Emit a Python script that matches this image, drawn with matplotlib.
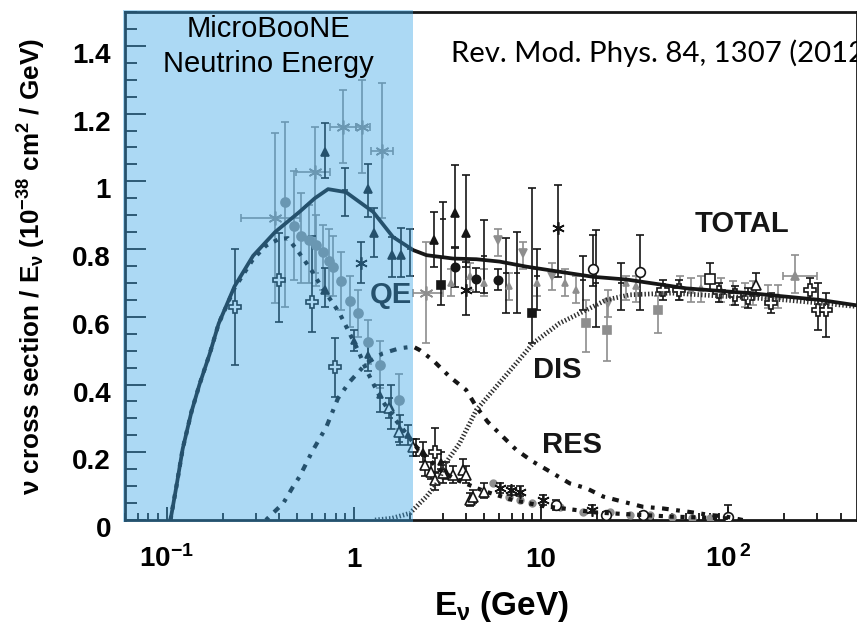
import numpy as np
import matplotlib
matplotlib.use('Agg')
import matplotlib.pyplot as plt
from matplotlib.ticker import LogLocator, MultipleLocator, FuncFormatter, NullFormatter
from matplotlib.transforms import ScaledTranslation

plt.rcParams['font.family'] = 'Liberation Sans'
plt.rcParams['mathtext.default'] = 'regular'

# ---- model curves (E in GeV, sigma/E in 1e-38 cm^2/GeV) ----
tot_E = [0.105, 0.113, 0.122, 0.136, 0.150, 0.170, 0.19, 0.231, 0.29, 0.38, 0.514, 0.62, 0.73,
         0.91, 1.27, 1.62, 2.08, 2.45, 3.4, 4.53, 6.03, 8.4, 12.6, 19.1, 28.8, 60, 136, 309, 500]
tot_y = [0.0, 0.10, 0.21, 0.32, 0.40, 0.49, 0.58, 0.69, 0.78, 0.85, 0.91, 0.95, 0.977,
         0.968, 0.91, 0.836, 0.797, 0.782, 0.772, 0.77, 0.763, 0.748, 0.733, 0.718, 0.71, 0.684, 0.669, 0.650, 0.633]

qe_E = [0.105, 0.113, 0.122, 0.136, 0.150, 0.170, 0.19, 0.231, 0.29, 0.34, 0.40, 0.446, 0.514, 0.594,
        0.672, 0.775, 0.842, 0.952, 1.054, 1.17, 1.38, 1.62, 1.91, 2.16, 2.45, 2.88, 3.5, 5.0, 7.0,
        10, 20, 50, 100]
qe_y = [0.0, 0.10, 0.21, 0.32, 0.40, 0.49, 0.58, 0.685, 0.77, 0.81, 0.83, 0.832, 0.787, 0.738,
        0.689, 0.64, 0.61, 0.551, 0.502, 0.443, 0.364, 0.305, 0.256, 0.216, 0.187, 0.148, 0.12, 0.085, 0.06,
        0.042, 0.022, 0.01, 0.005]

res_E = [0.34, 0.37, 0.42, 0.474, 0.514, 0.60, 0.715, 0.824, 0.952, 1.17, 1.43, 1.76, 2.08, 2.25,
         2.65, 3.26, 3.99, 4.53, 5.2, 7.4, 9.1, 11.2, 14.3, 17.5, 21.6, 27.5, 35.2, 45, 60, 80, 98, 120]
res_y = [0.0, 0.02, 0.049, 0.098, 0.128, 0.202, 0.275, 0.359, 0.408, 0.463, 0.492, 0.507, 0.512, 0.502,
         0.472, 0.423, 0.384, 0.334, 0.29, 0.207, 0.172, 0.143, 0.108, 0.094, 0.069, 0.054, 0.039, 0.034,
         0.025, 0.015, 0.01, 0.0]

dis_E = [1.3, 1.6, 2.0, 2.25, 2.45, 2.88, 3.0, 3.68, 4.53, 5.79, 7.4, 9.1, 12.6, 17.5, 22.4, 30, 50,
         100, 200, 500]
dis_y = [0.0, 0.005, 0.02, 0.049, 0.069, 0.118, 0.157, 0.226, 0.325, 0.394, 0.463, 0.522, 0.581, 0.62,
         0.65, 0.665, 0.67, 0.66, 0.65, 0.63]

# ---- data points: value, lower and upper end of the error bar ----
# grey asterisks (with energy bins)
ga_E = [0.378, 0.619, 0.877, 1.108, 1.42, 2.45]
ga_y = [0.891, 1.028, 1.161, 1.161, 1.089, 0.669]
ga_lo = [0.64, 0.728, 1.053, 1.024, 0.891, 0.522]
ga_hi = [1.142, 1.161, 1.27, 1.30, 1.29, 0.822]
ga_xlo = [0.25, 0.494, 0.744, 1.03, 1.24, 2.08]
ga_xhi = [0.514, 0.744, 1.03, 1.22, 1.62, 3.0]

# grey filled circles
gc_E = [0.428, 0.480, 0.525, 0.577, 0.627, 0.685, 0.735, 0.775, 0.852, 0.952, 1.054, 1.20, 1.38, 1.74]
gc_y = [0.94, 0.868, 0.839, 0.827, 0.811, 0.790, 0.766, 0.746, 0.707, 0.647, 0.612, 0.526, 0.458, 0.354]
gc_lo = [0.63, 0.71, 0.70, 0.70, 0.69, 0.68, 0.66, 0.66, 0.62, 0.57, 0.54, 0.46, 0.39, 0.27]
gc_hi = [1.174, 1.03, 0.965, 0.93, 0.90, 0.87, 0.86, 0.84, 0.79, 0.72, 0.68, 0.59, 0.53, 0.43]

# grey down triangles
gv_E = [5.9, 8.0, 11.5, 22.9]
gv_y = [0.827, 0.787, 0.72, 0.64]
gv_lo = [0.78, 0.74, 0.68, 0.60]
gv_hi = [0.86, 0.82, 0.76, 0.68]

# grey small triangles along the total
gt_E = [3.3, 4.2, 5.0, 6.8, 9.5, 13.5, 15.5, 28.7, 32.4, 55.5, 63.8, 72.1, 92.2, 106, 123, 137, 164, 186]
gt_y = [0.70, 0.72, 0.70, 0.69, 0.70, 0.70, 0.68, 0.70, 0.69, 0.69, 0.68, 0.685, 0.68, 0.67, 0.665,
        0.67, 0.66, 0.66]
gt_lo = [0.66, 0.68, 0.66, 0.65, 0.66, 0.66, 0.64, 0.65, 0.645, 0.65, 0.645, 0.645, 0.645, 0.635, 0.63,
         0.635, 0.625, 0.625]
gt_hi = [0.74, 0.76, 0.74, 0.73, 0.74, 0.74, 0.72, 0.72, 0.72, 0.72, 0.715, 0.72, 0.715, 0.705, 0.70,
         0.705, 0.695, 0.695]

# grey squares
gs_E = [17.5, 22.7, 42.4]
gs_y = [0.581, 0.561, 0.62]
gs_lo = [0.497, 0.47, 0.552]
gs_hi = [0.65, 0.65, 0.66]

# grey triangle with energy bin
gb_E = [228]
gb_y = [0.72]
gb_lo = [0.669]
gb_hi = [0.782]
gb_xlo = [196]
gb_xhi = [298]

# grey points close to zero at high energy
gl_E = [5.55, 6.8, 7.7, 9.0, 12.6, 16.8, 23.3, 29.8, 38.3, 50, 64, 80]
gl_y = [0.110, 0.069, 0.059, 0.05, 0.039, 0.025, 0.025, 0.015, 0.015, 0.01, 0.006, 0.005]

# black filled triangles
bt_E = [0.70, 0.70, 1.20, 1.29, 1.60, 1.78, 2.68, 3.47, 4.0]
bt_y = [1.087, 0.679, 0.976, 0.848, 0.782, 0.782, 0.827, 0.906, 0.846]
bt_lo = [1.009, 0.63, 0.895, 0.777, 0.718, 0.718, 0.748, 0.807, 0.748]
bt_hi = [1.171, 0.744, 1.051, 0.92, 0.836, 0.861, 0.91, 1.048, 1.019]

# black small triangles on the QE fall-off
bq_E = [1.0, 1.19, 1.38, 1.59, 1.76, 1.95, 2.16, 2.35, 2.94, 3.13]
bq_y = [0.53, 0.487, 0.37, 0.33, 0.27, 0.25, 0.216, 0.20, 0.172, 0.143]
bq_lo = [0.50, 0.44, 0.32, 0.27, 0.22, 0.22, 0.19, 0.17, 0.15, 0.12]
bq_hi = [0.56, 0.53, 0.40, 0.40, 0.31, 0.28, 0.24, 0.23, 0.20, 0.17]

# black open triangles
bo_E = [1.55, 1.75, 2.08, 2.40, 2.60, 2.71, 3.0, 3.39, 3.84, 4.0, 4.17, 4.35, 5.0, 142]
bo_y = [0.33, 0.261, 0.216, 0.162, 0.143, 0.118, 0.138, 0.133, 0.148, 0.133, 0.059, 0.069, 0.084, 0.694]
bo_lo = [0.30, 0.23, 0.19, 0.13, 0.12, 0.09, 0.11, 0.11, 0.12, 0.11, 0.04, 0.05, 0.065, 0.66]
bo_hi = [0.36, 0.29, 0.24, 0.19, 0.17, 0.14, 0.17, 0.16, 0.18, 0.16, 0.08, 0.09, 0.11, 0.73]

# black bars with a small mark
bb_E = [0.903, 1.99, 2.99, 5.0, 6.5, 7.45, 9.5, 16.8, 19.8, 27.0]
bb_y = [0.974, 0.80, 0.89, 0.78, 0.73, 0.73, 0.72, 0.71, 0.70, 0.70]
bb_lo = [0.897, 0.72, 0.777, 0.669, 0.61, 0.61, 0.62, 0.62, 0.57, 0.62]
bb_hi = [1.038, 0.86, 0.94, 0.886, 0.832, 0.851, 0.80, 0.78, 0.856, 0.758]

# black filled circles
bc_E = [3.47, 4.48, 5.91]
bc_y = [0.748, 0.711, 0.709]
bc_lo = [0.689, 0.674, 0.68]
bc_hi = [0.802, 0.743, 0.74]

# black filled squares
bs_E = [2.92, 8.98]
bs_y = [0.694, 0.612]
bs_lo = [0.635, 0.522]
bs_hi = [0.777, 0.979]

# black asterisks
bx_E = [1.10, 4.0, 12.4, 6.04, 6.9, 7.7, 10.3, 18.7]
bx_y = [0.758, 0.679, 0.861, 0.094, 0.088, 0.084, 0.059, 0.03]
bx_lo = [0.699, 0.605, 0.718, 0.08, 0.075, 0.07, 0.045, 0.02]
bx_hi = [0.822, 0.763, 0.989, 0.11, 0.10, 0.10, 0.075, 0.045]

# black open circles
bO_E = [18.9, 33.8, 12.1, 22.4, 35.2, 100]
bO_y = [0.740, 0.733, 0.044, 0.015, 0.015, 0.01]
bO_lo = [0.69, 0.62, 0.03, 0.005, 0.005, 0.0]
bO_hi = [0.841, 0.841, 0.06, 0.025, 0.025, 0.044]

# black open square
bq2_E = [80.1]
bq2_y = [0.711]
bq2_lo = [0.68]
bq2_hi = [0.76]

# black open crosses
bp_E = [0.231, 0.397, 0.60, 0.798, 2.71, 45, 55, 90, 109, 128, 170, 275, 303, 335]
bp_y = [0.63, 0.709, 0.644, 0.453, 0.202, 0.679, 0.679, 0.674, 0.664, 0.655, 0.64, 0.679, 0.62, 0.62]
bp_lo = [0.458, 0.585, 0.556, 0.364, 0.143, 0.65, 0.65, 0.645, 0.635, 0.625, 0.61, 0.65, 0.561, 0.541]
bp_hi = [0.80, 0.847, 0.839, 0.536, 0.271, 0.71, 0.71, 0.70, 0.69, 0.685, 0.67, 0.715, 0.699, 0.67]

GREY = '#8e8e8e'
BLACK = '#161616'

fig = plt.figure(figsize=(8.57, 6.24), dpi=100)
ax = fig.add_axes([125/857, 104/624, 732/857, 508/624])


def bars(E, y, lo, hi, color, marker, ms, mfc=None, xlo=None, xhi=None, z=3):
    E = np.array(E, dtype=float)
    y = np.array(y, dtype=float)
    yerr = [y - np.array(lo), np.array(hi) - y]
    xerr = None
    if xlo is not None:
        xerr = [E - np.array(xlo), np.array(xhi) - E]
    ax.errorbar(E, y, yerr=yerr, xerr=xerr, fmt='', marker=marker, ls='none', color=color, ms=ms,
                mfc=color if mfc is None else mfc, mec=color, mew=1.2,
                elinewidth=1.2, capsize=3, capthick=1.2, zorder=z)


# grey data
bars(ga_E, ga_y, ga_lo, ga_hi, GREY, (6, 2, 0), 10, xlo=ga_xlo, xhi=ga_xhi)
bars(gc_E, gc_y, gc_lo, gc_hi, GREY, 'o', 6.5)
bars(gv_E, gv_y, gv_lo, gv_hi, GREY, 'v', 6)
bars(gt_E, gt_y, gt_lo, gt_hi, GREY, '^', 4)
bars(gs_E, gs_y, gs_lo, gs_hi, GREY, 's', 6)
bars(gb_E, gb_y, gb_lo, gb_hi, GREY, '^', 6, xlo=gb_xlo, xhi=gb_xhi)
ax.plot(gl_E, gl_y, 'o', color=GREY, ms=5, zorder=3)

# black data
bars(bt_E, bt_y, bt_lo, bt_hi, BLACK, '^', 6)
bars(bq_E, bq_y, bq_lo, bq_hi, BLACK, '^', 5)
bars(bo_E, bo_y, bo_lo, bo_hi, BLACK, '^', 7, mfc='white')
bars(bb_E, bb_y, bb_lo, bb_hi, BLACK, '_', 5)
bars(bc_E, bc_y, bc_lo, bc_hi, BLACK, 'o', 6)
bars(bs_E, bs_y, bs_lo, bs_hi, BLACK, 's', 6)
bars(bx_E, bx_y, bx_lo, bx_hi, BLACK, (6, 2, 0), 9)
bars(bO_E, bO_y, bO_lo, bO_hi, BLACK, 'o', 7, mfc='white')
bars(bq2_E, bq2_y, bq2_lo, bq2_hi, BLACK, 's', 7, mfc='white')
bars(bp_E, bp_y, bp_lo, bp_hi, BLACK, 'P', 8, mfc='white')

# model curves
ax.plot(dis_E, dis_y, color='#2e2e2e', lw=3.4, dashes=(0.3, 0.45), zorder=4)
ax.plot(res_E, res_y, color=BLACK, lw=3, dashes=(0.9, 1.8, 1.6, 1.8), zorder=4)
ax.plot(qe_E, qe_y, color=BLACK, lw=3, dashes=(1, 1.6), zorder=4)
ax.plot(tot_E, tot_y, color=BLACK, lw=2.7, zorder=5, solid_capstyle='butt')

lab = dict(fontsize=21, fontweight='bold', ha='center', va='baseline', color=BLACK, zorder=6)
ax.text(1.58, 0.641, 'QE', **lab)
ax.text(12.3, 0.419, 'DIS', **lab)
ax.text(14.7, 0.198, 'RES', **lab)
ax.text(119, 0.850, 'TOTAL', **lab)

# MicroBooNE energy range
ax.axvspan(0.0585, 2.07, ymin=-0.004, ymax=1.004, color='#3AA5E6', alpha=0.42, lw=0,
           zorder=20, clip_on=False)
ax.text(0.349, 1.427, 'MicroBooNE', fontsize=21, ha='center', va='baseline', zorder=30)
ax.text(0.349, 1.324, 'Neutrino Energy', fontsize=21, ha='center', va='baseline', zorder=30)
ax.text(3.33, 1.353, 'Rev. Mod. Phys. 84, 1307 (2012)', fontsize=21.2, family='Lato',
        ha='left', va='baseline', zorder=30)

ax.set_xscale('log')
ax.set_xlim(0.06, 10 ** (2 + 129 / 187))
ax.set_ylim(0, 1.5)

ax.set_xticks([0.1, 1, 10, 100])
ax.set_xticklabels(['$10^{-1}$', '1', '10', '$10^{\\,2}$'])
ax.xaxis.set_minor_locator(LogLocator(base=10, subs=np.arange(2, 10)))
ax.xaxis.set_minor_formatter(NullFormatter())
ax.yaxis.set_major_locator(MultipleLocator(0.2))
ax.yaxis.set_minor_locator(MultipleLocator(0.05))
ax.yaxis.set_major_formatter(FuncFormatter(lambda v, p: ('%.1f' % v).rstrip('0').rstrip('.')))

ax.tick_params(axis='x', which='major', direction='in', length=9.5, width=1.2, pad=34, labelsize=20)
ax.tick_params(axis='x', which='minor', direction='in', length=5, width=1.2)
ax.tick_params(axis='y', which='major', direction='in', length=15, width=1.2, pad=10, labelsize=20)
ax.tick_params(axis='y', which='minor', direction='in', length=8.4, width=1.2)
for t in ax.get_xticklabels():
    t.set_fontweight('bold')
    t.set_verticalalignment('baseline')
shift = ScaledTranslation(0, -7 / 100, fig.dpi_scale_trans)
for t in ax.get_yticklabels():
    t.set_fontweight('bold')
    t.set_transform(t.get_transform() + shift)

for s in ax.spines.values():
    s.set_linewidth(2)
    s.set_color(BLACK)

fig.text(32 / 857, 1 - 266 / 624, 'ν cross section / E$_{ν}$ (10$^{-38}$ cm$^{2}$ / GeV)',
         rotation=90, ha='center', va='center', fontsize=18.8, fontweight='bold')
fig.text(502 / 857, 1 - 615 / 624, 'E$_{ν}$ (GeV)', ha='center', va='baseline',
         fontsize=24, fontweight='bold')

fig.savefig('out.png', dpi=100)
